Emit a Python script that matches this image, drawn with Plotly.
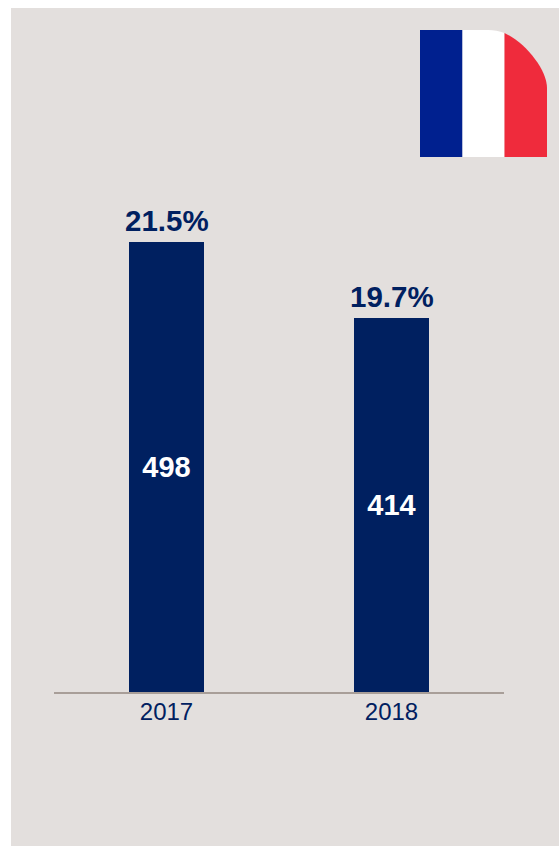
import plotly.graph_objects as go

# Chart data
years = ["2017", "2018"]
counts = [498, 414]
shares = ["21.5%", "19.7%"]

WIDTH, HEIGHT = 559, 846
NAVY = "#002060"
PANEL = "#e3dfdd"

# Plot area in pixels
LEFT, RIGHT, TOP, BOTTOM = 54, 504, 142, 692
# Vertical scale: 450 px of bar height stands for the 498 count
y_max = 498 * (BOTTOM - TOP) / 450


def px(x):
    return (x - LEFT) / (RIGHT - LEFT)


def py(y):
    return (BOTTOM - y) / (BOTTOM - TOP)


def rect(x0, y0, x1, y1, color):
    return dict(type="rect", xref="paper", yref="paper", layer="below",
                x0=px(x0), x1=px(x1), y0=py(y0), y1=py(y1),
                fillcolor=color, line_width=0)


def outline(points, color):
    """Closed path through straight and cubic segments, given in pixels."""
    parts = []
    for seg in points:
        cmd, *coords = seg
        pairs = [f"{px(coords[i])},{py(coords[i + 1])}" for i in range(0, len(coords), 2)]
        parts.append(cmd + " " + " ".join(pairs))
    return dict(type="path", xref="paper", yref="paper", layer="below",
                path=" ".join(parts) + " Z", fillcolor=color, line_width=0)


# Flag badge: three stripes with a rounded upper right corner
FX0, FX1, FX2, FX3 = 420, 462.5, 504.5, 547
FY0, FY1 = 30, 157

shapes = [
    rect(11, 8, 565, 852, PANEL),
    rect(FX0, FY0, FX1, FY1, "#00208f"),
    outline([("M", FX1, FY0), ("L", 488, FY0),
             ("C", 494, FY0, 499, FY0 + 1, FX2, FY0 + 3),
             ("L", FX2, FY1), ("L", FX1, FY1)], "#ffffff"),
    outline([("M", FX2, FY0 + 3),
             ("C", 526, 43, FX3, 70, FX3, 88),
             ("L", FX3, FY1), ("L", FX2, FY1)], "#ef2b3c"),
]

fig = go.Figure()

fig.add_trace(go.Bar(
    x=years, y=counts,
    marker=dict(color=NAVY, line_width=0),
    text=[str(c) for c in counts],
    textposition="inside", insidetextanchor="middle", textangle=0,
    insidetextfont=dict(family="Liberation Sans", size=29, color="#ffffff", weight="bold"),
    hoverinfo="skip",
))

# Share labels sit just above each bar; on a category axis the position is the category index
for index, (count, share) in enumerate(zip(counts, shares)):
    fig.add_annotation(
        x=index, y=count, text=share, showarrow=False,
        xanchor="center", yanchor="bottom", yshift=3,
        font=dict(family="Liberation Sans", size=29.5, color=NAVY, weight="bold"),
    )

fig.update_layout(
    width=WIDTH, height=HEIGHT,
    margin=dict(l=LEFT, r=WIDTH - RIGHT, t=TOP, b=HEIGHT - BOTTOM, pad=0),
    paper_bgcolor="#ffffff", plot_bgcolor="rgba(0,0,0,0)",
    showlegend=False, bargap=2 / 3, shapes=shapes,
    xaxis=dict(type="category", range=[-0.5, 1.5], showgrid=False, ticks="",
               showline=True, linecolor="#a89e98", linewidth=2, zeroline=False,
               ticklabelstandoff=-3,
               tickfont=dict(family="Liberation Sans", size=24, color=NAVY)),
    yaxis=dict(range=[0, y_max], visible=False, fixedrange=True),
)

fig.write_html("out.html", config=dict(displayModeBar=False))
